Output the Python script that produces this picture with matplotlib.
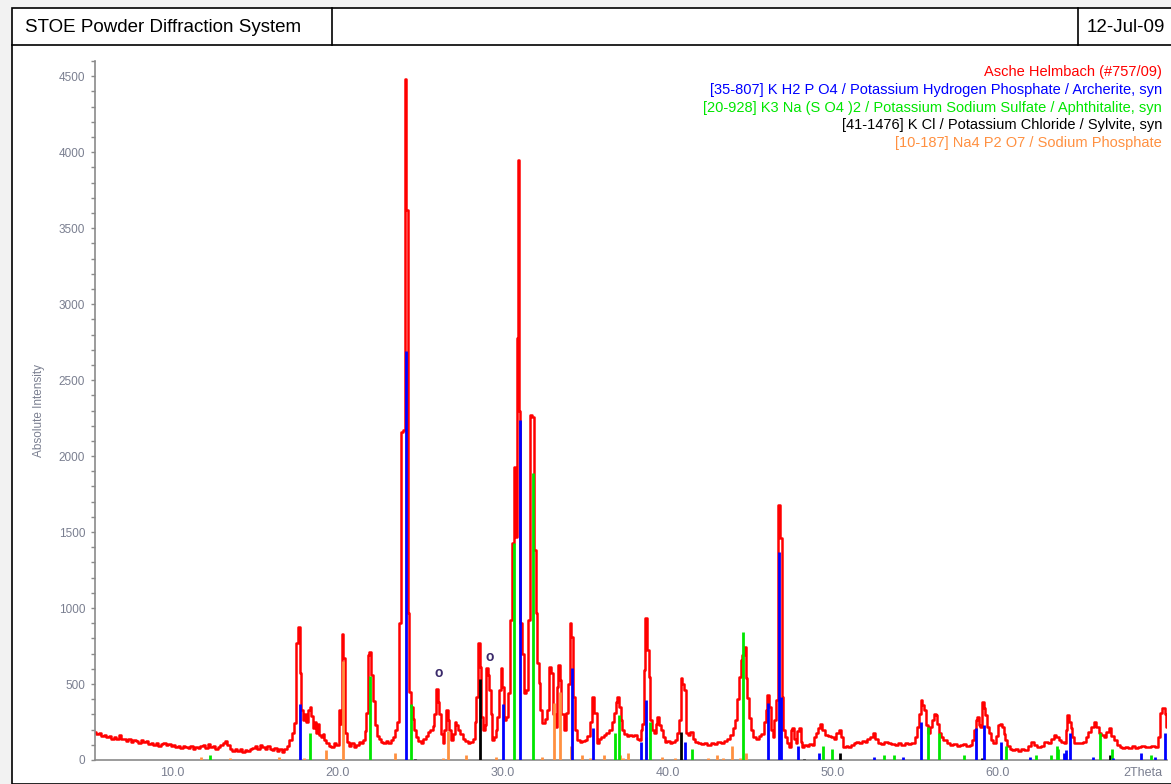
import numpy as np
import matplotlib
matplotlib.use("Agg")
import matplotlib.pyplot as plt
from matplotlib.patches import Rectangle
from matplotlib.lines import Line2D
from matplotlib.ticker import MultipleLocator

plt.rcParams['font.family'] = ['Liberation Sans', 'DejaVu Sans']

# measured pattern: 2theta (deg), intensity (counts)
two_theta = [
    5.30, 5.45, 5.60, 5.75, 5.90, 6.05, 6.20, 6.35, 6.50, 6.65, 6.80, 6.95, 7.10, 7.25, 7.40,
    7.55, 7.70, 7.85, 8.00, 8.15, 8.30, 8.45, 8.60, 8.75, 8.90, 9.05, 9.20, 9.35, 9.50, 9.65,
    9.80, 9.95, 10.10, 10.25, 10.40, 10.55, 10.70, 10.85, 11.00, 11.15, 11.30, 11.45, 11.60,
    11.75, 11.90, 12.05, 12.20, 12.35, 12.50, 12.65, 12.80, 12.95, 13.10, 13.25, 13.40, 13.55,
    13.70, 13.85, 14.00, 14.15, 14.30, 14.45, 14.60, 14.75, 14.90, 15.05, 15.20, 15.35, 15.50,
    15.65, 15.80, 15.95, 16.10, 16.25, 16.40, 16.55, 16.70, 16.85, 17.00, 17.15, 17.30, 17.45,
    17.55, 17.65, 17.75, 17.85, 17.95, 18.05, 18.15, 18.25, 18.35, 18.45, 18.55, 18.65, 18.75,
    18.85, 18.95, 19.05, 19.15, 19.25, 19.40, 19.55, 19.70, 19.85, 20.00, 20.12, 20.22, 20.30,
    20.40, 20.50, 20.60, 20.75, 20.90, 21.05, 21.20, 21.35, 21.50, 21.60, 21.70, 21.78, 21.88,
    21.98, 22.08, 22.18, 22.30, 22.42, 22.55, 22.70, 22.85, 23.00, 23.15, 23.30, 23.45, 23.55,
    23.65, 23.78, 23.92, 24.04, 24.12, 24.20, 24.30, 24.40, 24.50, 24.60, 24.70, 24.82, 24.97,
    25.10, 25.25, 25.40, 25.55, 25.70, 25.80, 25.92, 26.02, 26.12, 26.22, 26.32, 26.40, 26.50,
    26.62, 26.72, 26.82, 26.92, 27.05, 27.15, 27.25, 27.38, 27.50, 27.65, 27.80, 27.95, 28.10,
    28.25, 28.35, 28.45, 28.55, 28.65, 28.75, 28.85, 28.95, 29.05, 29.15, 29.25, 29.33, 29.41,
    29.52, 29.62, 29.72, 29.82, 29.92, 30.02, 30.12, 30.25, 30.38, 30.52, 30.62, 30.73, 30.80,
    30.88, 30.95, 31.03, 31.13, 31.23, 31.35, 31.45, 31.57, 31.70, 31.84, 31.94, 32.04, 32.14,
    32.24, 32.34, 32.48, 32.62, 32.75, 32.88, 33.00, 33.10, 33.21, 33.32, 33.41, 33.50, 33.62,
    33.76, 33.88, 34.00, 34.10, 34.22, 34.32, 34.45, 34.60, 34.75, 34.90, 35.05, 35.20, 35.35,
    35.47, 35.60, 35.78, 35.92, 36.05, 36.20, 36.38, 36.55, 36.68, 36.79, 36.90, 37.00, 37.09,
    37.20, 37.29, 37.45, 37.60, 37.75, 37.90, 38.05, 38.20, 38.30, 38.42, 38.50, 38.60, 38.70,
    38.80, 38.90, 39.00, 39.10, 39.20, 39.32, 39.42, 39.52, 39.62, 39.75, 39.90, 40.05, 40.20,
    40.35, 40.50, 40.62, 40.72, 40.83, 40.93, 41.03, 41.17, 41.30, 41.44, 41.60, 41.74, 41.90,
    42.10, 42.30, 42.50, 42.70, 42.90, 43.10, 43.30, 43.50, 43.70, 43.86, 44.00, 44.16, 44.28,
    44.36, 44.47, 44.57, 44.67, 44.77, 44.87, 45.00, 45.12, 45.27, 45.45, 45.60, 45.75, 45.90,
    45.98, 46.08, 46.18, 46.30, 46.40, 46.50, 46.59, 46.73, 46.85, 46.95, 47.05, 47.15, 47.28,
    47.39, 47.50, 47.60, 47.70, 47.80, 47.90, 48.00, 48.10, 48.20, 48.35, 48.50, 48.65, 48.80,
    48.92, 49.00, 49.15, 49.30, 49.45, 49.60, 49.80, 50.00, 50.15, 50.30, 50.42, 50.55, 50.70,
    50.85, 51.00, 51.20, 51.35, 51.50, 51.70, 51.85, 52.00, 52.20, 52.35, 52.50, 52.65, 52.80,
    53.00, 53.20, 53.45, 53.65, 53.85, 54.05, 54.26, 54.45, 54.65, 54.87, 55.05, 55.17, 55.27,
    55.37, 55.48, 55.58, 55.70, 55.84, 55.95, 56.08, 56.18, 56.28, 56.38, 56.48, 56.62, 56.79,
    57.00, 57.20, 57.40, 57.60, 57.80, 58.00, 58.20, 58.40, 58.50, 58.60, 58.70, 58.80, 58.90,
    59.00, 59.10, 59.20, 59.30, 59.40, 59.50, 59.65, 59.80, 59.95, 60.10, 60.20, 60.30, 60.40,
    60.50, 60.65, 60.80, 60.95, 61.10, 61.30, 61.50, 61.70, 61.90, 62.10, 62.30, 62.50, 62.70,
    62.95, 63.15, 63.30, 63.45, 63.60, 63.76, 63.90, 64.06, 64.16, 64.26, 64.36, 64.47, 64.57,
    64.67, 64.85, 65.07, 65.25, 65.40, 65.58, 65.75, 65.88, 66.00, 66.20, 66.35, 66.50, 66.65,
    66.80, 66.95, 67.10, 67.30, 67.45, 67.60, 67.80, 68.00, 68.20, 68.40, 68.60, 68.80, 69.00,
    69.20, 69.40, 69.60, 69.75, 69.90, 70.05, 70.15, 70.22,
]
intensity = [
    185, 170, 180, 160, 165, 150, 155, 140, 150, 135, 165, 140, 135, 125, 140,
    120, 130, 125, 115, 130, 120, 125, 105, 115, 100, 110, 95, 105, 115, 100,
    105, 90, 100, 85, 95, 80, 90, 85, 80, 90, 75, 85, 80,
    90, 100, 80, 105, 85, 95, 75, 85, 100, 115, 125, 100, 70,
    60, 75, 60, 70, 55, 65, 60, 75, 80, 95, 70, 100, 85,
    75, 90, 70, 65, 80, 60, 70, 55, 75, 95, 130, 180, 245,
    770, 875, 575, 330, 260, 300, 250, 330, 350, 290, 210, 250, 180,
    240, 165, 150, 170, 130, 110, 90, 85, 110, 100, 330, 240, 830,
    670, 180, 120, 95, 110, 85, 100, 120, 110, 130, 190, 310, 690,
    710, 560, 390, 230, 160, 135, 120, 110, 125, 115, 130, 150, 200,
    250, 900, 2160, 2170, 4480, 3620, 965, 445, 350, 270, 200, 150, 125,
    115, 135, 160, 185, 200, 225, 300, 470, 380, 300, 170, 110, 200,
    330, 260, 200, 130, 170, 250, 230, 200, 170, 140, 125, 115, 120,
    140, 250, 415, 770, 610, 285, 200, 230, 605, 560, 460, 300, 130,
    150, 200, 280, 460, 605, 480, 260, 285, 440, 920, 1430, 1930, 1470,
    2780, 3950, 2300, 900, 700, 440, 460, 920, 2270, 2260, 1380, 965, 640,
    505, 330, 245, 270, 330, 610, 570, 300, 220, 480, 625, 525, 300,
    200, 310, 500, 900, 810, 415, 200, 130, 120, 125, 130, 160, 250,
    415, 310, 110, 140, 150, 165, 175, 200, 250, 310, 380, 415, 350,
    260, 200, 170, 160, 165, 155, 165, 140, 130, 200, 240, 590, 935,
    725, 545, 265, 200, 175, 240, 285, 230, 200, 150, 120, 125, 115,
    120, 130, 180, 265, 540, 500, 460, 175, 165, 185, 140, 120, 115,
    105, 110, 100, 115, 105, 120, 110, 125, 135, 165, 210, 265, 400,
    545, 660, 690, 745, 540, 410, 275, 200, 150, 140, 155, 170, 250,
    330, 425, 350, 200, 150, 260, 395, 1680, 1460, 415, 200, 150, 110,
    85, 200, 210, 140, 110, 190, 210, 120, 85, 100, 95, 105, 100,
    150, 175, 210, 240, 200, 165, 155, 150, 140, 175, 200, 150, 85,
    90, 85, 100, 115, 120, 110, 125, 120, 135, 150, 175, 140, 110,
    105, 120, 110, 105, 100, 110, 100, 110, 105, 110, 150, 220, 300,
    395, 360, 330, 230, 175, 220, 265, 300, 295, 240, 175, 150, 130,
    110, 100, 105, 95, 100, 105, 95, 100, 130, 200, 260, 285, 230,
    220, 380, 340, 295, 220, 175, 130, 110, 160, 230, 240, 220, 170,
    130, 90, 70, 65, 75, 60, 70, 65, 90, 120, 100, 85, 95,
    120, 110, 140, 165, 150, 130, 120, 110, 200, 295, 250, 210, 150,
    110, 115, 110, 120, 150, 185, 220, 250, 215, 175, 165, 150, 185,
    210, 160, 130, 100, 85, 80, 85, 80, 90, 80, 85, 90, 85,
    85, 90, 85, 150, 310, 340, 300, 220,
]

# reference stick patterns: position (deg), height (counts)
khpo_pos = [17.70, 24.12, 30.02, 31.03, 34.22, 35.50, 38.40, 38.70, 41.03, 46.08, 46.76, 46.86,
            47.92, 49.17, 52.50, 54.26, 55.37, 58.70, 59.17, 60.22, 61.94, 64.00, 64.16, 64.40,
            65.74, 66.99, 68.70, 69.50, 70.10]
khpo_int = [370, 2690, 370, 2235, 605, 210, 120, 395, 120, 375, 1370, 415,
            95, 45, 20, 20, 250, 210, 230, 120, 20, 45, 65, 175,
            20, 15, 45, 20, 175]

kna_pos = [12.28, 18.30, 21.94, 24.46, 30.69, 31.84, 36.79, 37.03, 38.95, 41.48, 44.58,
           49.40, 49.98, 53.10, 53.70, 55.77, 56.44, 57.94, 60.49, 62.30, 63.20, 63.56,
           63.66, 66.18, 66.89, 69.31]
kna_int = [35, 180, 550, 370, 1430, 1890, 180, 295, 250, 70, 840,
           90, 70, 35, 35, 220, 180, 35, 90, 35, 30, 90,
           70, 180, 70, 35]

kcl_pos = [24.67, 28.61, 40.79, 48.26, 50.42, 59.07, 66.79]
kcl_int = [8, 530, 185, 8, 45, 15, 30]

napo_pos = [11.74, 13.46, 16.44, 17.96, 19.31, 20.32, 23.45, 26.40, 26.68, 27.80, 29.60,
            32.38, 33.09, 33.45, 34.16, 34.81, 35.32, 36.13, 37.09, 37.30, 37.60, 38.70,
            39.68, 40.46, 42.44, 42.99, 43.35, 43.92, 44.36, 44.77]
napo_int = [20, 15, 20, 15, 65, 650, 45, 15, 190, 35, 20,
            20, 375, 450, 90, 35, 15, 35, 30, 15, 45, 150,
            20, 15, 15, 35, 15, 90, 15, 45]

legend_lines = [
    ("Asche Helmbach (#757/09)", "#ff0000"),
    ("[35-807] K H2 P O4 / Potassium Hydrogen Phosphate / Archerite, syn", "#0000ff"),
    ("[20-928] K3 Na (S O4 )2 / Potassium Sodium Sulfate / Aphthitalite, syn", "#00e600"),
    ("[41-1476] K Cl / Potassium Chloride / Sylvite, syn", "#000000"),
    ("[10-187] Na4 P2 O7 / Sodium Phosphate", "#ff9040"),
]
marks_pos = [26.1, 29.2]
marks_int = [570, 680]

W, H = 1171, 784
fig = plt.figure(figsize=(W / 100, H / 100), dpi=100, facecolor="#f2f2f2")


def fx(px):
    return px / W


def fy(py):
    return 1 - py / H


# white sheet, header row and its cells (behind the axes)
fig.add_artist(Rectangle((fx(12), 0), fx(W + 5) - fx(12), fy(8), transform=fig.transFigure,
                         facecolor="white", edgecolor="black", lw=1.2, zorder=-10))
fig.add_artist(Line2D([fx(12), 1], [fy(45), fy(45)], transform=fig.transFigure, color="black", lw=1.2))
for px in (332, 1078):
    fig.add_artist(Line2D([fx(px), fx(px)], [fy(45), fy(8)], transform=fig.transFigure,
                          color="black", lw=1.2))
fig.text(fx(25), fy(28), "STOE Powder Diffraction System", fontsize=13.5, va="center", ha="left")
fig.text(fx(1087), fy(28), "12-Jul-09", fontsize=13.5, va="center", ha="left")

ax = fig.add_axes([fx(95), fy(760), fx(1167) - fx(95), fy(61) - fy(760)])
ax.set_facecolor("white")

ax.plot(two_theta, intensity, color="#ff0000", lw=1.8, drawstyle="steps-mid", zorder=2)
ax.vlines(napo_pos, 0, napo_int, color="#ff9040", lw=2, zorder=3)
ax.vlines(kcl_pos, 0, kcl_int, color="black", lw=2, zorder=3)
ax.vlines(kna_pos, 0, kna_int, color="#00e600", lw=2, zorder=4)
ax.vlines(khpo_pos, 0, khpo_int, color="#0000ff", lw=2, zorder=5)

for x, y in zip(marks_pos, marks_int):
    ax.text(x, y, "o", color="#3b2a6b", fontsize=10, ha="center", va="center", fontweight="bold")

ax.set_xlim(5.3, 70.25)
ax.set_ylim(0, 4600)

gray = "#8a8a8a"
for side in ("top", "right"):
    ax.spines[side].set_visible(False)
for side in ("left", "bottom"):
    ax.spines[side].set_color(gray)
    ax.spines[side].set_linewidth(1.2)

ax.set_xticks([10, 20, 30, 40, 50, 60, 70])
ax.set_xticklabels(["10.0", "20.0", "30.0", "40.0", "50.0", "60.0", "2Theta"])
ax.tick_params(axis="x", length=0, pad=5, labelsize=9, labelcolor="#7a7f90")
ax.get_xticklabels()[-1].set_horizontalalignment("right")
ax.yaxis.set_major_locator(MultipleLocator(500))
ax.yaxis.set_minor_locator(MultipleLocator(100))
ax.tick_params(axis="y", which="both", direction="out", color=gray, length=3, width=1,
               labelsize=8.5, labelcolor="#7a7f90", pad=4)
ax.set_ylabel("Absolute Intensity", fontsize=8.5, color="#7a7f90", labelpad=10)

for i, (txt, col) in enumerate(legend_lines):
    ax.text(0.9955, 1 - (72 - 61 + i * 17.8) / 699, txt, transform=ax.transAxes, ha="right", va="center",
            fontsize=10.5, color=col)

fig.savefig("out.png", dpi=100, facecolor=fig.get_facecolor())
